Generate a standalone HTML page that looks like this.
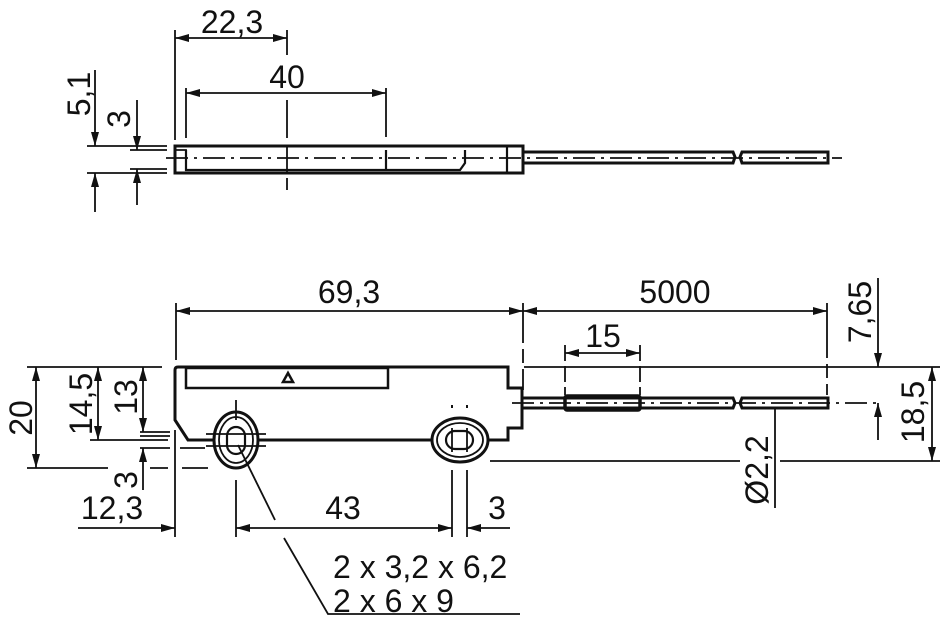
<!DOCTYPE html>
<html><head><meta charset="utf-8"><style>
html,body{margin:0;padding:0;background:#fff;}
svg{display:block;}
text{font-family:"Liberation Sans",sans-serif;font-size:32px;fill:#111;}
</style></head><body>
<svg width="940" height="624" viewBox="0 0 940 624" xmlns="http://www.w3.org/2000/svg">
<defs>
<marker id="a" viewBox="0 0 14 8" refX="14" refY="4" markerWidth="14" markerHeight="8" markerUnits="userSpaceOnUse" orient="auto-start-reverse"><path d="M0,0L14,4L0,8Z" fill="#111"/></marker>
</defs>
<g stroke="#111" fill="none" stroke-width="1.8">
<!-- TOP VIEW -->
<rect x="175" y="146" width="348" height="27" stroke-width="3"/>
<path d="M176,150H186V170"/>
<path d="M186,150V170H460L465,163V150" stroke-width="2.2"/>
<line x1="386" y1="150" x2="386" y2="170" stroke-width="2.2"/>
<line x1="507" y1="146" x2="507" y2="173" stroke-width="2.2"/>
<line x1="287" y1="146" x2="287" y2="173"/>
<path d="M523,152H733L735,157L733,163H523" stroke-width="3"/>
<path d="M742,152H828V163H742L740,157Z" stroke-width="3"/>
<line x1="166" y1="158" x2="842" y2="158" stroke-dasharray="22,6,3,6"/>
<line x1="287" y1="100" x2="287" y2="138"/>
<line x1="287" y1="178" x2="287" y2="190"/>
<line x1="175" y1="30" x2="175" y2="140"/>
<line x1="287" y1="30" x2="287" y2="55"/>
<line x1="175" y1="38" x2="287" y2="38" marker-start="url(#a)" marker-end="url(#a)"/>
<line x1="186" y1="88" x2="186" y2="138"/>
<line x1="386" y1="88" x2="386" y2="137"/>
<line x1="186" y1="93" x2="386" y2="93" marker-start="url(#a)" marker-end="url(#a)"/>
<line x1="87" y1="146" x2="167" y2="146"/>
<line x1="87" y1="173" x2="167" y2="173"/>
<line x1="130" y1="150" x2="167" y2="150"/>
<line x1="130" y1="169" x2="167" y2="169"/>
<line x1="95" y1="70" x2="95" y2="146" marker-end="url(#a)"/>
<line x1="95" y1="212" x2="95" y2="173" marker-end="url(#a)"/>
<line x1="137" y1="100" x2="137" y2="150" marker-end="url(#a)"/>
<line x1="137" y1="205" x2="137" y2="169" marker-end="url(#a)"/>

<!-- BOTTOM VIEW body -->
<path d="M175,420V370Q175,367 178,367H508V388H522V428H508V440H188Z" stroke-width="3"/>
<rect x="186" y="368" width="202" height="20" stroke-width="2.5"/>
<path d="M288,373L293,382H283Z" stroke-width="2.5"/>
<ellipse cx="236" cy="440" rx="22" ry="28" stroke-width="3" fill="#fff"/>
<ellipse cx="236" cy="440" rx="17" ry="23"/>
<rect x="227" y="427" width="18" height="27" rx="9" stroke-width="2.2"/>
<line x1="236" y1="400" x2="236" y2="420"/>
<line x1="206" y1="434" x2="266" y2="434"/>
<line x1="206" y1="446" x2="266" y2="446"/>
<ellipse cx="460" cy="440" rx="28" ry="22" stroke-width="3" fill="#fff"/>
<ellipse cx="460" cy="440" rx="23" ry="17"/>
<rect x="446" y="431" width="27" height="18" rx="9" stroke-width="2.2"/>
<line x1="452" y1="428" x2="452" y2="452"/>
<line x1="467" y1="428" x2="467" y2="452"/>
<line x1="452" y1="405" x2="452" y2="408" stroke-width="2"/>
<line x1="467" y1="405" x2="467" y2="408" stroke-width="2"/>
<path d="M522,398H733L735,403L733,408H522" stroke-width="3"/>
<rect x="565" y="396" width="75" height="14" rx="2" stroke-width="3.5"/>
<path d="M742,398H828V408H742L740,403Z" stroke-width="3"/>
<line x1="512" y1="403" x2="880" y2="403" stroke-dasharray="22,6,3,6"/>
<line x1="176" y1="303" x2="176" y2="360"/>
<line x1="523" y1="303" x2="523" y2="390" stroke-dasharray="40,6,14,6"/>
<line x1="827" y1="303" x2="827" y2="395" stroke-dasharray="55,6,14,6"/>
<line x1="176" y1="311" x2="523" y2="311" marker-start="url(#a)" marker-end="url(#a)"/>
<line x1="523" y1="311" x2="827" y2="311" marker-start="url(#a)" marker-end="url(#a)"/>
<line x1="565" y1="345" x2="565" y2="395" stroke-dasharray="16,5"/>
<line x1="640" y1="345" x2="640" y2="395" stroke-dasharray="16,5"/>
<line x1="565" y1="353" x2="640" y2="353" marker-start="url(#a)" marker-end="url(#a)"/>
<line x1="524" y1="367" x2="940" y2="367"/>
<line x1="490" y1="461" x2="740" y2="461"/>
<line x1="780" y1="461" x2="940" y2="461"/>
<line x1="878" y1="278" x2="878" y2="367" marker-end="url(#a)"/>
<line x1="878" y1="440" x2="878" y2="403" marker-end="url(#a)"/>
<line x1="932" y1="367" x2="932" y2="461" marker-start="url(#a)" marker-end="url(#a)"/>
<line x1="775" y1="408" x2="775" y2="508"/>
<line x1="27" y1="367" x2="162" y2="367"/>
<line x1="27" y1="468" x2="108" y2="468"/>
<line x1="150" y1="468" x2="168" y2="468"/>
<line x1="182" y1="468" x2="208" y2="468"/>
<line x1="90" y1="440" x2="168" y2="440"/>
<line x1="140" y1="432" x2="170" y2="432"/>
<line x1="140" y1="436" x2="170" y2="436"/>
<line x1="140" y1="448" x2="170" y2="448"/>
<line x1="180" y1="448" x2="205" y2="448"/>
<line x1="36" y1="367" x2="36" y2="468" marker-start="url(#a)" marker-end="url(#a)"/>
<line x1="98" y1="367" x2="98" y2="440" marker-start="url(#a)" marker-end="url(#a)"/>
<line x1="143" y1="367" x2="143" y2="432" marker-start="url(#a)" marker-end="url(#a)"/>
<line x1="143" y1="490" x2="143" y2="448" marker-end="url(#a)"/>
<line x1="175" y1="430" x2="175" y2="537"/>
<line x1="236" y1="480" x2="236" y2="537"/>
<line x1="452" y1="470" x2="452" y2="537"/>
<line x1="467" y1="470" x2="467" y2="537"/>
<line x1="78" y1="528" x2="175" y2="528" marker-end="url(#a)"/>
<line x1="236" y1="528" x2="452" y2="528" marker-start="url(#a)" marker-end="url(#a)"/>
<line x1="510" y1="528" x2="467" y2="528" marker-end="url(#a)"/>
<path d="M238,445L275,520"/>
<path d="M284,538L328,614H520"/>
</g>
<g>
<text x="232" y="33" text-anchor="middle">22,3</text>
<text x="287" y="88" text-anchor="middle">40</text>
<text transform="translate(90,94) rotate(-90)" text-anchor="middle">5,1</text>
<text transform="translate(130,119) rotate(-90)" text-anchor="middle">3</text>
<text x="349" y="303" text-anchor="middle">69,3</text>
<text x="675" y="303" text-anchor="middle">5000</text>
<text x="603" y="347" text-anchor="middle">15</text>
<text transform="translate(871,312) rotate(-90)" text-anchor="middle">7,65</text>
<text transform="translate(924,412) rotate(-90)" text-anchor="middle">18,5</text>
<text transform="translate(768,470) rotate(-90)" text-anchor="middle">Ø2,2</text>
<text transform="translate(32,418) rotate(-90)" text-anchor="middle">20</text>
<text transform="translate(92,404) rotate(-90)" text-anchor="middle">14,5</text>
<text transform="translate(137,397) rotate(-90)" text-anchor="middle">13</text>
<text transform="translate(137,480) rotate(-90)" text-anchor="middle">3</text>
<text x="112" y="519" text-anchor="middle">12,3</text>
<text x="343" y="519" text-anchor="middle">43</text>
<text x="497" y="519" text-anchor="middle">3</text>
<text x="333" y="578">2 x 3,2 x 6,2</text>
<text x="333" y="612">2 x 6 x 9</text>
</g>
</svg>
</body></html>
